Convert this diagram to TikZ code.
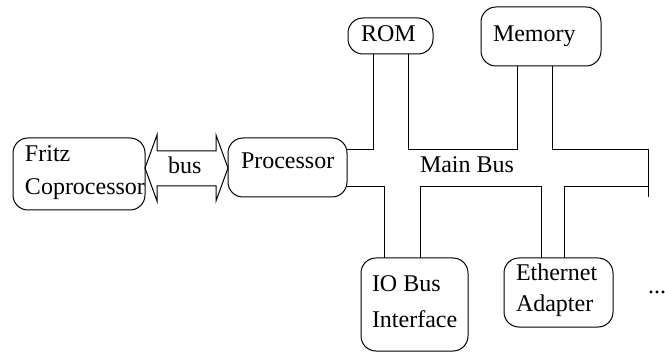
\documentclass[tikz,border=0pt]{standalone}
\usepackage{fontspec}
\setmainfont{Liberation Serif}
\begin{document}
\begin{tikzpicture}[x=0.5pt,y=-0.5pt,line width=0.5pt,
	every node/.style={font=\fontsize{12}{14}\selectfont,inner sep=0,outer sep=0},
	unit/.style={draw,rounded corners=7.5pt,anchor=north west},
	txt/.style={anchor=base west}]
\useasboundingbox (0,0) rectangle (665,353);
% boxes
\node[unit,minimum width=66pt,minimum height=36pt] (fritz) at (13,138) {};
\node[unit,minimum width=59.5pt,minimum height=29.5pt] (proc) at (228,138) {};
\node[unit,minimum width=42.5pt,minimum height=18pt] (rom) at (348,18) {};
\node[unit,minimum width=60pt,minimum height=29.5pt] (mem) at (481,7) {};
\node[unit,minimum width=53.5pt,minimum height=46.5pt] (io) at (361,258) {};
\node[unit,minimum width=54.5pt,minimum height=34.5pt] (eth) at (504,258) {};
% texts
\node[txt] (t1) at (25,162) {Fritz};
\node[txt] (t2) at (25,195) {Coprocessor};
\node[txt] (t3) at (241,169) {Processor};
\node[txt] (t4) at (168,174) {bus};
\node[txt] (t5) at (361,42) {ROM};
\node[txt] (t6) at (493,42) {Memory};
\node[txt] (t7) at (420,173) {Main Bus};
\node[txt] (t8) at (372,292) {IO Bus};
\node[txt] (t9) at (372,328) {Interface};
\node[txt] (t10) at (516,281) {Ethernet};
\node[txt] (t11) at (516,312) {Adapter};
\node[txt] (t12) at (648,293) {...};
% double arrow bus
\draw (fritz.east |- 0,168) -- (157,135) -- (157,151) -- (216,151) -- (216,135)
	-- (proc.west |- 0,168) -- (216,201) -- (216,186) -- (157,186) -- (157,201) -- cycle;
% main bus
\draw (proc.east |- 0,150) -- (373,150) -- (373,0 |- rom.south);
\draw (408,0 |- rom.south) -- (408,150) -- (517,150) -- (517,0 |- mem.south);
\draw (552,0 |- mem.south) -- (552,150) -- (648,150) -- (648,197);
\draw (proc.east |- 0,187) -- (384,187) -- (384,0 |- io.north);
\draw (420,0 |- io.north) -- (420,187) -- (541,187) -- (541,0 |- eth.north);
\draw (564,0 |- eth.north) -- (564,187) -- (648,187);
\end{tikzpicture}
\end{document}
